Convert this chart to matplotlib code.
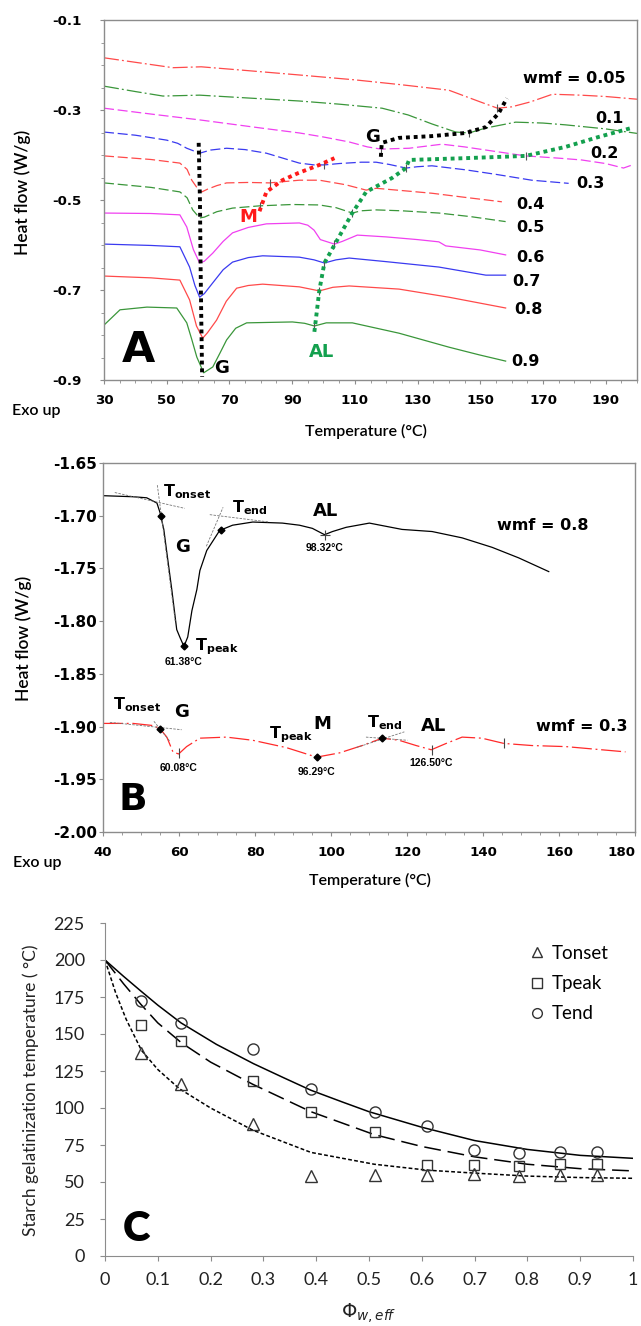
#!/usr/bin/env python3
# DSC thermograms of starch at several water mass fractions (A, B)
# and gelatinization temperatures against effective water volume fraction (C).

import matplotlib
matplotlib.use("Agg")
import matplotlib.pyplot as plt
import matplotlib.ticker as ticker
from matplotlib.lines import Line2D
import numpy as np

plt.rcParams['axes.unicode_minus'] = False
plt.rcParams['font.family'] = ['DejaVu Sans']

W, H = 641, 1326

# ---------------- panel A data: heat flow (W/g) vs temperature (C) ----------------
WMF_A = ['0.05', '0.1', '0.2', '0.3', '0.4', '0.5', '0.6', '0.7', '0.8', '0.9']

T_005 = [30, 40, 52, 61, 75, 92, 110, 125, 140, 150, 155.5, 160, 166, 173, 182, 190, 200]
HF_005 = [-0.184, -0.194, -0.206, -0.204, -0.212, -0.222, -0.233, -0.244, -0.256, -0.282,
          -0.296, -0.293, -0.282, -0.265, -0.267, -0.270, -0.276]

T_01 = [30, 40, 48.8, 60.5, 80, 92.3, 105, 118.7, 127, 134.6, 142.2, 146.4, 151.8, 161.3,
        170, 177.2, 190, 200]
HF_01 = [-0.247, -0.259, -0.269, -0.267, -0.275, -0.280, -0.287, -0.296, -0.311, -0.331,
         -0.349, -0.351, -0.340, -0.327, -0.329, -0.333, -0.342, -0.352]

T_02 = [30, 45, 60.5, 80, 92.3, 100, 108.2, 114, 118.4, 122, 127.3, 137.8, 145, 151.8,
        164.5, 175, 182.3, 190, 195.7, 198.5]
HF_02 = [-0.296, -0.309, -0.322, -0.340, -0.351, -0.360, -0.371, -0.382, -0.387, -0.386,
         -0.385, -0.376, -0.382, -0.389, -0.402, -0.407, -0.411, -0.419, -0.429, -0.422]

T_03 = [30, 40, 50, 53.5, 56.4, 60.5, 64, 69.1, 75, 81.8, 92.3, 97, 100.3, 105, 112, 116.8,
        121, 126.3, 130, 134.6, 145.4, 155, 166.4, 178.2]
HF_03 = [-0.349, -0.356, -0.367, -0.374, -0.385, -0.396, -0.389, -0.385, -0.388, -0.396,
         -0.418, -0.422, -0.422, -0.419, -0.416, -0.416, -0.421, -0.429, -0.426, -0.424,
         -0.433, -0.443, -0.456, -0.463]

T_04 = [30, 45, 54.2, 56.5, 58, 60, 61.2, 63, 66, 69.1, 76, 82.8, 92.3, 98.7, 107, 113.6,
        116.8, 125, 134.6, 145, 156.9]
HF_04 = [-0.402, -0.410, -0.418, -0.432, -0.456, -0.476, -0.482, -0.476, -0.468, -0.462,
         -0.461, -0.462, -0.456, -0.456, -0.466, -0.478, -0.474, -0.479, -0.485, -0.494, -0.504]

T_05 = [30, 45, 54.2, 56.5, 58.3, 60.5, 62, 66, 71, 79.6, 90, 98.7, 104, 109.2, 112, 116.8,
        125, 136.8, 147, 158.1]
HF_05 = [-0.462, -0.472, -0.482, -0.495, -0.522, -0.540, -0.538, -0.526, -0.518, -0.513,
         -0.510, -0.511, -0.517, -0.529, -0.524, -0.522, -0.524, -0.529, -0.537, -0.548]

T_06 = [30, 45, 54.2, 56.4, 58.5, 60.5, 62, 64.7, 68, 71, 76, 81.8, 92.3, 95, 97, 99,
        103.5, 106, 110.8, 120, 130, 136.8, 139, 150, 158.1]
HF_06 = [-0.529, -0.530, -0.533, -0.560, -0.610, -0.640, -0.636, -0.618, -0.592, -0.573,
         -0.561, -0.553, -0.551, -0.556, -0.567, -0.588, -0.598, -0.592, -0.578, -0.582,
         -0.588, -0.593, -0.602, -0.611, -0.622]

T_07 = [30, 45, 54.2, 57.3, 59, 60.5, 62, 64.7, 68, 71, 76, 80.6, 92.3, 97, 100.3, 104,
        108.2, 120, 136.8, 151.8, 158.1]
HF_07 = [-0.598, -0.601, -0.604, -0.649, -0.690, -0.716, -0.708, -0.684, -0.655, -0.638,
         -0.628, -0.624, -0.627, -0.633, -0.640, -0.633, -0.629, -0.637, -0.649, -0.667, -0.667]

T_08 = [30, 45, 54.2, 57.3, 59.5, 61.5, 63, 65.9, 69, 72.3, 76, 80.6, 92.3, 98.7, 103,
        108.2, 124.1, 140, 158.1]
HF_08 = [-0.669, -0.673, -0.678, -0.722, -0.780, -0.807, -0.795, -0.767, -0.725, -0.696,
         -0.690, -0.687, -0.693, -0.702, -0.694, -0.691, -0.698, -0.716, -0.740]

T_09 = [30, 35.1, 43.7, 53.2, 56.4, 58, 59.6, 61.8, 64.7, 67, 69.1, 72, 75.5, 90.1, 94,
        97.1, 100.9, 109.2, 124.1, 140, 149.6, 158.1]
HF_09 = [-0.778, -0.744, -0.738, -0.740, -0.773, -0.810, -0.849, -0.884, -0.871, -0.840,
         -0.811, -0.785, -0.773, -0.771, -0.774, -0.780, -0.773, -0.773, -0.796, -0.827,
         -0.844, -0.858]

# transition marks on the curves (curve, temperature)
TICK_WMF_A = ['0.05', '0.1', '0.2', '0.2', '0.3', '0.3', '0.3', '0.4', '0.5', '0.5',
              '0.6', '0.7', '0.8', '0.9']
TICK_T_A = [155.5, 146.4, 118.4, 164.5, 60.5, 100.3, 126.3, 82.8, 79.6, 109.2,
            103.5, 100.3, 98.7, 97.1]

# dotted guide lines through the transitions
G_LOW_T = [60.2, 60.6, 60.8, 61.0, 61.3]
G_LOW_HF = [-0.373, -0.50, -0.64, -0.75, -0.893]
G_HIGH_T = [118.3, 118.6, 124, 134.6, 145.4, 151.8, 155.9, 158.5]
G_HIGH_HF = [-0.404, -0.373, -0.362, -0.358, -0.351, -0.338, -0.307, -0.274]
M_T = [79.6, 81.8, 86.9, 92, 98.7, 103.5]
M_HF = [-0.525, -0.482, -0.456, -0.440, -0.422, -0.407]
AL_T = [97.1, 98.7, 100.3, 103.5, 109.2, 113.6, 121.9, 126.3, 127.3, 145.4, 164.5, 177.2,
        187.7, 198.2]
AL_HF = [-0.793, -0.700, -0.640, -0.600, -0.529, -0.482, -0.451, -0.429, -0.411, -0.407,
         -0.402, -0.382, -0.360, -0.340]

# ---------------- panel B data ----------------
T_B08 = [40, 47.9, 51.5, 54.2, 55, 56, 56.8, 58.1, 59.4, 60.2, 61.3, 62.3, 63.4, 64.7, 65.5,
         67.3, 70.7, 74.1, 79.4, 87.2, 91.7, 95.1, 98.3, 100.4, 104, 110.1, 118.7, 126.6,
         134.5, 142.4, 149.4, 157.3]
HF_B08 = [-1.681, -1.682, -1.683, -1.688, -1.697, -1.713, -1.735, -1.770, -1.808, -1.815,
          -1.824, -1.815, -1.790, -1.770, -1.752, -1.733, -1.714, -1.709, -1.706, -1.707,
          -1.709, -1.712, -1.718, -1.715, -1.711, -1.707, -1.713, -1.715, -1.721, -1.730,
          -1.740, -1.753]

T_B03 = [40, 47.9, 53.1, 55, 56.8, 58.4, 59.9, 62, 65.5, 72.5, 79.4, 88.3, 96.2, 102.2,
         108.2, 113.5, 117.9, 122.4, 126.4, 130.3, 134.5, 139.7, 145.5, 152.9, 161.8, 177.5]
HF_B03 = [-1.897, -1.897, -1.899, -1.902, -1.910, -1.924, -1.926, -1.919, -1.911, -1.910,
          -1.913, -1.920, -1.929, -1.925, -1.918, -1.911, -1.913, -1.918, -1.922, -1.916,
          -1.910, -1.911, -1.916, -1.918, -1.919, -1.924]

# characteristic points (onset, peak, end) marked with diamonds
DIAM_T_08 = [55.2, 61.38, 71.0]
DIAM_T_03 = [55.0, 96.29, 113.5]
# small vertical marks
MARK_T_03 = [60.08, 126.5, 145.5]
MARK_T_08 = [98.32]

# tangent construction lines: [T0, T1], [HF0, HF1]
TAN_T = [[43.1, 61.5], [54.3, 59.0], [68.1, 83.8], [67.2, 71.6],
         [41.8, 60.7], [53.4, 57.6], [106.6, 119.3], [109.2, 120.1]]
TAN_HF = [[-1.678, -1.693], [-1.671, -1.800], [-1.699, -1.706], [-1.729, -1.692],
          [-1.896, -1.903], [-1.895, -1.914], [-1.920, -1.905], [-1.910, -1.913]]

# ---------------- panel C data ----------------
PHI = [0.068, 0.143, 0.28, 0.39, 0.512, 0.609, 0.698, 0.785, 0.862, 0.932]
T_ONSET = [137, 116, 89, 54, 55, 55, 55.5, 54, 55, 55]
T_PEAK = [156, 145, 118, 97, 84, 61.5, 61.5, 61, 62, 62]
T_END = [172.5, 157.5, 140, 113, 97, 88, 71.5, 69.5, 70, 70]

FIT_ONSET_X = [0, 0.02, 0.04, 0.069, 0.1, 0.141, 0.2, 0.28, 0.39, 0.51, 0.61, 0.7, 0.8, 0.9, 1.0]
FIT_ONSET_Y = [200, 178, 160, 139, 126, 113, 100, 85, 70, 62, 58, 56, 54, 53, 52.5]
FIT_PEAK_X = [0, 0.035, 0.068, 0.1, 0.145, 0.2, 0.28, 0.39, 0.51, 0.6, 0.7, 0.8, 0.9, 1.0]
FIT_PEAK_Y = [200, 184, 170, 157.5, 144, 131, 116, 97.5, 82, 74, 67, 62, 59, 57.5]
FIT_END_X = [0, 0.035, 0.068, 0.1, 0.144, 0.211, 0.281, 0.338, 0.39, 0.45, 0.5, 0.6, 0.7,
             0.8, 0.9, 1.0]
FIT_END_Y = [200, 189, 179, 169.5, 157.5, 143, 130, 120.5, 112, 104, 97.5, 87, 78, 72, 68, 66]

# styles
A_COLORS = ['#ff4a4a', '#3a963a', '#f040f0', '#3a3af0', '#ff4a4a',
            '#3a963a', '#f040f0', '#3a3af0', '#ff4a4a', '#3a963a']
DASHDOT = (0, (12, 2.5, 1.5, 2.5))
DASHED = (0, (8, 3))
A_STYLES = [DASHDOT, DASHDOT, DASHED, DASHED, DASHED, DASHED, '-', '-', '-', '-']
SPINE = '#8c8c8c'
LABEL_FONT = ['Lato', 'DejaVu Sans']


def box(left, top, right, bottom):
    return [left / W, 1 - bottom / H, (right - left) / W, (bottom - top) / H]


def ftext(fig, x, y, s, **kw):
    fig.text(x / W, 1 - y / H, s, **kw)


def frame(ax):
    for sp in ax.spines.values():
        sp.set_color(SPINE)
        sp.set_linewidth(1.0)
    ax.tick_params(which='both', direction='out', color=SPINE)
    ax.tick_params(which='major', length=3)
    ax.tick_params(which='minor', length=2.5)


def panel_a(fig):
    ax = fig.add_axes(box(104, 20, 637, 380))
    curves = list(zip([T_005, T_01, T_02, T_03, T_04, T_05, T_06, T_07, T_08, T_09],
                      [HF_005, HF_01, HF_02, HF_03, HF_04, HF_05, HF_06, HF_07, HF_08, HF_09]))
    for (t, hf), col, ls in zip(curves, A_COLORS, A_STYLES):
        ax.plot(t, hf, color=col, lw=0.9, ls=ls)

    for w, t in zip(TICK_WMF_A, TICK_T_A):
        tt, hh = curves[WMF_A.index(w)]
        ax.plot(t, np.interp(t, tt, hh), marker='|', ms=6, mew=0.8, color='#555555')

    dots = dict(lw=2.8, ls=(0, (1, 1)))
    ax.plot(G_LOW_T, G_LOW_HF, color='black', **dots)
    ax.plot(G_HIGH_T, G_HIGH_HF, color='black', **dots)
    ax.plot(M_T, M_HF, color='#ff1a1a', **dots)
    ax.plot(AL_T, AL_HF, color='#13a04e', **dots)

    # curve labels
    lab = dict(fontsize=11.5, fontweight='bold', va='center', ha='left')
    pos = [(163.5, -0.229), (186.8, -0.318), (185.2, -0.396), (180.7, -0.463),
           (161.6, -0.511), (161.6, -0.560), (161.6, -0.627), (160.3, -0.680),
           (160.9, -0.744), (160.0, -0.860)]
    for w, (x, y) in zip(WMF_A, pos):
        ax.text(x, y, 'wmf = ' + w if w == '0.05' else w, **lab)

    big = dict(fontsize=13, fontweight='bold', ha='center', va='center')
    ax.text(115.5, -0.360, 'G', **big)
    ax.text(67.5, -0.873, 'G', **big)
    ax.text(76.1, -0.538, 'M', color='#ff1a1a', **big)
    ax.text(99.3, -0.838, 'AL', color='#13a04e', **big)
    ax.text(41.1, -0.833, 'A', fontsize=31, fontweight='bold', ha='center', va='center')

    ax.set_xlim(30, 200)
    ax.set_ylim(-0.9, -0.1)
    xt = list(range(30, 200, 20))
    ax.set_xticks(xt, labels=[str(v) for v in xt], fontsize=9.6, fontweight='bold')
    yt = [-0.9, -0.7, -0.5, -0.3, -0.1]
    ax.set_yticks(yt, labels=[f'{v:.1f}' for v in yt], fontsize=9.6, fontweight='bold')
    ax.xaxis.set_minor_locator(ticker.MultipleLocator(5))
    ax.yaxis.set_minor_locator(ticker.MultipleLocator(0.05))
    frame(ax)
    ax.tick_params(axis='x', which='major', pad=7)
    ax.tick_params(axis='y', which='major', pad=13)

    lbl = dict(family=LABEL_FONT, fontweight='semibold')
    ftext(fig, 23, 192, 'Heat flow (W/g)', rotation=90, ha='center', va='center',
          fontsize=12.5, **lbl)
    ftext(fig, 12, 411, 'Exo up', ha='left', va='center', fontsize=11.5, **lbl)
    ftext(fig, 366, 431, 'Temperature (\u00b0C)', ha='center', va='center', fontsize=11.5, **lbl)


def panel_b(fig):
    ax = fig.add_axes(box(103, 463, 635, 832))
    ax.plot(T_B08, HF_B08, color='black', lw=0.9)
    ax.plot(T_B03, HF_B03, color='#ff2a2a', lw=0.9, ls=(0, (16, 3, 1.5, 3)))

    for t, hf in zip(TAN_T, TAN_HF):
        ax.plot(t, hf, color='#777777', lw=0.6, ls=(0, (3, 1.5)))

    for tv, (tt, hh) in ((DIAM_T_08, (T_B08, HF_B08)), (DIAM_T_03, (T_B03, HF_B03))):
        ax.plot(tv, np.interp(tv, tt, hh), ls='none', marker='D', ms=3.5, color='black')
    ax.plot(MARK_T_03, np.interp(MARK_T_03, T_B03, HF_B03), ls='none', marker='|',
            ms=7, mew=0.8, color='#444444')
    ax.plot(MARK_T_08, np.interp(MARK_T_08, T_B08, HF_B08), ls='none', marker='+',
            ms=7, mew=0.8, color='#444444')

    tl = dict(fontsize=11.5, va='baseline', ha='left')
    ax.text(55.7, -1.682, r'$\mathbf{T_{onset}}$', **tl)
    ax.text(73.9, -1.697, r'$\mathbf{T_{end}}$', **tl)
    ax.text(64.1, -1.828, r'$\mathbf{T_{peak}}$', **tl)
    ax.text(42.6, -1.884, r'$\mathbf{T_{onset}}$', **tl)
    ax.text(83.6, -1.911, r'$\mathbf{T_{peak}}$', **tl)
    ax.text(109.6, -1.901, r'$\mathbf{T_{end}}$', **tl)

    big = dict(fontsize=13, fontweight='bold', ha='center', va='center')
    ax.text(61.0, -1.730, 'G', **big)
    ax.text(98.5, -1.696, 'AL', **big)
    ax.text(60.7, -1.886, 'G', **big)
    ax.text(97.6, -1.898, 'M', **big)
    ax.text(127.1, -1.899, 'AL', **big)

    deg = dict(fontsize=7.5, fontweight='bold', ha='center', va='center',
               family=['Liberation Sans', 'DejaVu Sans'])
    ax.text(98.3, -1.731, '98.32\u00b0C', **deg)
    ax.text(61.3, -1.839, '61.38\u00b0C', **deg)
    ax.text(60.0, -1.939, '60.08\u00b0C', **deg)
    ax.text(96.2, -1.943, '96.29\u00b0C', **deg)
    ax.text(126.4, -1.935, '126.50\u00b0C', **deg)

    wl = dict(fontsize=11.5, fontweight='bold', ha='left', va='center')
    ax.text(143.7, -1.709, 'wmf = 0.8', **wl)
    ax.text(153.9, -1.900, 'wmf = 0.3', **wl)
    ax.text(47.9, -1.970, 'B', fontsize=27, fontweight='bold', ha='center', va='center')

    ax.set_xlim(40, 180)
    ax.set_ylim(-2.0, -1.65)
    xt = list(range(40, 181, 20))
    ax.set_xticks(xt, labels=[str(v) for v in xt], fontsize=9.6, fontweight='bold')
    ax.get_xticklabels()[-1].set_horizontalalignment('right')
    yt = [-2.0, -1.95, -1.9, -1.85, -1.8, -1.75, -1.7, -1.65]
    ax.set_yticks(yt, labels=[f'{v:.2f}' for v in yt], fontsize=11, fontweight='bold')
    ax.xaxis.set_minor_locator(ticker.MultipleLocator(5))
    frame(ax)
    ax.tick_params(axis='x', which='major', pad=7)
    ax.tick_params(axis='y', which='major', pad=1.5)

    lbl = dict(family=LABEL_FONT, fontweight='semibold')
    ftext(fig, 24, 638, 'Heat flow (W/g)', rotation=90, ha='center', va='center',
          fontsize=12.5, **lbl)
    ftext(fig, 13, 863, 'Exo up', ha='left', va='center', fontsize=11.5, **lbl)
    ftext(fig, 370, 880, 'Temperature (\u00b0C)', ha='center', va='center', fontsize=11.5, **lbl)


def panel_c(fig):
    ax = fig.add_axes(box(105, 923, 633, 1256))
    ax.plot(FIT_END_X, FIT_END_Y, color='black', lw=1.1)
    ax.plot(FIT_PEAK_X, FIT_PEAK_Y, color='black', lw=1.1, ls=(0, (11, 4.5)))
    ax.plot(FIT_ONSET_X, FIT_ONSET_Y, color='black', lw=1.1, ls=(0, (2.5, 1.5)))

    mk = dict(ls='none', mfc='none', mec='#333333', mew=1.0)
    ax.plot(PHI, T_ONSET, marker='^', ms=8, **mk)
    ax.plot(PHI, T_PEAK, marker='s', ms=7, **mk)
    ax.plot(PHI, T_END, marker='o', ms=8, **mk)

    handles = [Line2D([], [], marker=m, ms=s, **mk) for m, s in (('^', 7), ('s', 6.5), ('o', 7))]
    ax.legend(handles, ['Tonset', 'Tpeak', 'Tend'], loc='upper left',
              bbox_to_anchor=(528 / W, 1 - 945 / H), bbox_transform=fig.transFigure,
              frameon=False, borderpad=0, borderaxespad=0, handlelength=1.0,
              handletextpad=0.25, labelspacing=0.7,
              prop=dict(family=LABEL_FONT, size=13.5))

    ax.text(0.059, 18, 'C', fontsize=30, fontweight='heavy', ha='center', va='center',
            family=LABEL_FONT)

    ax.set_xlim(0, 1)
    ax.set_ylim(0, 225)
    xt = [i / 10 for i in range(11)]
    ax.set_xticks(xt, labels=[f'{v:g}' for v in xt])
    ax.set_yticks(range(0, 226, 25))
    for s in ('top', 'right'):
        ax.spines[s].set_visible(False)
    for s in ('left', 'bottom'):
        ax.spines[s].set_color(SPINE)
    ax.tick_params(direction='out', length=3.5, color=SPINE, labelsize=13,
                   labelfontfamily='Lato', labelcolor='#222222')
    ax.tick_params(axis='x', pad=8)
    ax.tick_params(axis='y', pad=11)

    ftext(fig, 31, 1090, 'Starch gelatinization temperature ( \u00b0C)', rotation=90,
          ha='center', va='center', fontsize=12.5, family=LABEL_FONT, color='#222222')
    ftext(fig, 369, 1313, r'$\mathit{\Phi}_{\mathit{w,eff}}$', ha='center', va='center',
          fontsize=14, color='#222222')


def main():
    fig = plt.figure(figsize=(W / 100, H / 100), dpi=100)
    fig.patch.set_facecolor('white')
    panel_a(fig)
    panel_b(fig)
    panel_c(fig)
    fig.savefig('out.png', dpi=100, facecolor='white')
    plt.close(fig)


if __name__ == '__main__':
    main()
